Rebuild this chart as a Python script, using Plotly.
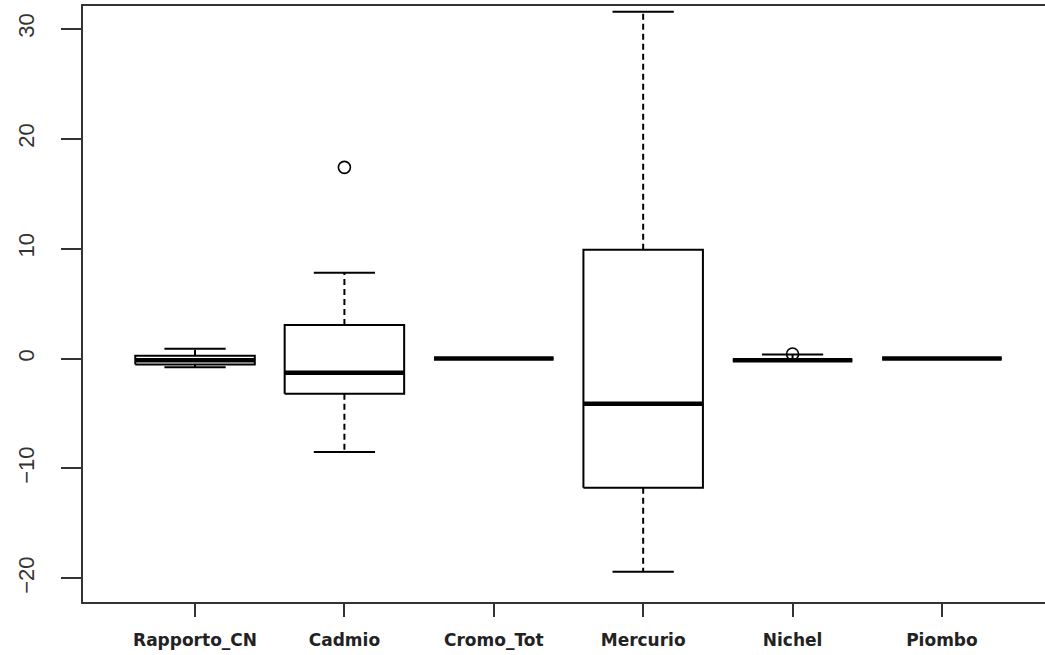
import plotly.graph_objects as go

categories = ["Rapporto_CN", "Cadmio", "Cromo_Tot", "Mercurio", "Nichel", "Piombo"]
lower_whisker = [-0.8, -8.5, 0.0, -19.4, -0.15, 0.0]
q1 = [-0.55, -3.2, 0.0, -11.75, -0.15, 0.0]
median = [-0.15, -1.3, 0.0, -4.1, -0.15, 0.0]
q3 = [0.25, 3.05, 0.0, 9.9, -0.15, 0.0]
upper_whisker = [0.9, 7.8, 0.0, 31.55, 0.38, 0.0]
outliers = [[], [17.4], [], [], [0.42], []]
y_ticks = [-20, -10, 0, 10, 20, 30]

BOX_HALF = 0.4
CAP_HALF = 0.205
positions = list(range(1, len(categories) + 1))

box_x, box_y = [], []
med_x, med_y = [], []
wh_x, wh_y = [], []
cap_x, cap_y = [], []
out_x, out_y = [], []
for p, lo, a, m, b, hi, outs in zip(positions, lower_whisker, q1, median, q3, upper_whisker, outliers):
    box_x += [p - BOX_HALF, p + BOX_HALF, p + BOX_HALF, p - BOX_HALF, p - BOX_HALF, None]
    box_y += [a, a, b, b, a, None]
    med_x += [p - BOX_HALF, p + BOX_HALF, None]
    med_y += [m, m, None]
    wh_x += [p, p, None, p, p, None]
    wh_y += [b, hi, None, a, lo, None]
    cap_x += [p - CAP_HALF, p + CAP_HALF, None, p - CAP_HALF, p + CAP_HALF, None]
    cap_y += [hi, hi, None, lo, lo, None]
    for o in outs:
        out_x.append(p)
        out_y.append(o)

fig = go.Figure()
fig.add_trace(go.Scatter(x=wh_x, y=wh_y, mode="lines",
                         line=dict(color="black", width=2, dash="6px,4px"),
                         hoverinfo="skip", showlegend=False))
fig.add_trace(go.Scatter(x=cap_x, y=cap_y, mode="lines",
                         line=dict(color="black", width=2),
                         hoverinfo="skip", showlegend=False))
fig.add_trace(go.Scatter(x=box_x, y=box_y, mode="lines",
                         line=dict(color="black", width=2),
                         hoverinfo="skip", showlegend=False))
fig.add_trace(go.Scatter(x=med_x, y=med_y, mode="lines",
                         line=dict(color="black", width=4.5),
                         hoverinfo="skip", showlegend=False))
fig.add_trace(go.Scatter(x=out_x, y=out_y, mode="markers",
                         marker=dict(symbol="circle-open", size=12, color="black",
                                     line=dict(width=1.6, color="black")),
                         showlegend=False))

fig.update_layout(
    width=1045, height=655,
    margin=dict(l=83, r=0, t=6, b=53),
    paper_bgcolor="white", plot_bgcolor="white",
    showlegend=False,
)
fig.update_xaxes(
    range=[0.25, 6.69],
    tickvals=positions, ticktext=categories,
    showgrid=False, zeroline=False,
    showline=True, mirror=True, linecolor="#333333", linewidth=2,
    ticks="outside", ticklen=13, tickwidth=2, tickcolor="#333333",
    tickfont=dict(family="DejaVu Sans", size=17, color="#222222", weight="bold"),
    ticklabelstandoff=9,
)
fig.update_yaxes(
    range=[-22.15, 32.08],
    tickvals=y_ticks,
    showgrid=False, zeroline=False,
    showline=True, linecolor="#333333", linewidth=2,
    ticks="outside", ticklen=20, tickwidth=2, tickcolor="#333333",
    tickangle=-90,
    tickfont=dict(family="Liberation Sans", size=22, color="#333333"),
    ticklabelstandoff=18,
)

fig.write_html("out.html", config={"displayModeBar": False},
               post_script="document.body.style.margin='0';document.body.style.overflow='hidden';")
